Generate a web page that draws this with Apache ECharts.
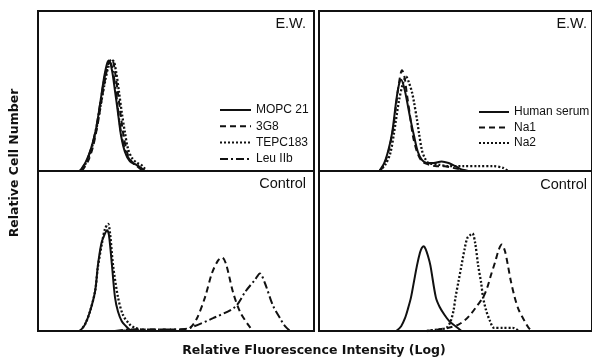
<!DOCTYPE html>
<html>
<head>
<meta charset="utf-8">
<script src="https://cdn.jsdelivr.net/npm/echarts@6/dist/echarts.min.js"></script>
<style>
  html, body { margin: 0; padding: 0; background: #fff; }
  #chart { width: 592px; height: 359px; }
</style>
</head>
<body>
<div id="chart"></div>
<script>
// x: relative fluorescence (0-100 across a panel), y: relative cell number (0-100 of panel height)
const ewMopc21 = [[15.2,0],[17.4,6],[19.2,14],[21.0,26],[22.5,42],[23.9,58],[25.0,67],[25.7,69],[26.8,63],[27.9,50],[29.0,36],[30.1,22],[31.5,12],[33.3,6],[35.5,4],[37.3,2],[38.8,0]];
const ew3G8 = [[15.9,0],[18.1,6],[19.9,15],[21.7,30],[23.2,46],[24.6,60],[25.7,68],[26.8,70],[27.9,62],[29.0,48],[30.1,33],[31.2,20],[32.6,10],[34.4,5],[36.2,3],[38.0,1],[39.1,0]];
const ewTepc183 = [[15.2,0],[17.4,5],[19.2,13],[21.0,25],[22.8,42],[24.3,56],[25.7,66],[27.2,69],[28.3,62],[29.3,50],[30.4,36],[31.5,24],[32.6,14],[34.1,8],[35.9,5],[37.3,4],[38.4,2],[39.5,0]];
const ewLeu = [[15.6,0],[17.8,7],[19.6,16],[21.4,30],[22.8,45],[24.3,60],[25.4,67],[26.1,68],[27.2,62],[28.3,49],[29.3,34],[30.4,21],[31.9,11],[33.7,6],[35.9,3],[38.0,0]];

const ctlMopc21 = [[15.2,0],[17.0,4],[18.8,12],[20.7,25],[21.7,41],[23.0,55],[24.3,61],[25.0,63],[25.7,60],[26.8,41],[27.9,21],[29.0,12],[30.4,6],[31.9,3],[33.7,0]];
const ctl3G8 = [[29.7,0],[37.0,1],[44.2,1],[51.4,1],[55.1,2],[57.6,8],[60.5,21],[63.0,36],[65.2,44],[66.7,46],[68.1,42],[70.7,24],[73.2,12],[76.1,4],[77.9,0]];
const ctlTepc183 = [[15.2,0],[17.0,4],[18.8,12],[20.7,25],[21.7,40],[23.2,55],[24.3,64],[25.4,67],[26.1,61],[27.2,41],[29.0,21],[30.8,10],[33.3,4],[35.1,2],[38.8,0]];
const ctlLeu = [[27.9,0],[33.3,1],[44.2,1],[51.4,1],[55.1,2],[63.4,8],[71.4,15],[75.3,25],[78.6,32],[80.4,36],[82.2,30],[85.1,16],[87.7,8],[89.5,3],[91.3,0]];

const ewHuman = [[22.1,0],[23.9,5],[25.4,13],[26.8,24],[28.3,44],[29.3,54],[30.1,57],[31.2,52],[32.2,44],[33.3,34],[34.8,22],[36.2,12],[37.7,7],[39.5,5],[42.0,5],[44.9,6],[47.5,5],[50.0,3],[52.2,1],[54.0,0]];
const ewNa1 = [[22.5,0],[24.3,6],[25.7,14],[27.2,27],[28.3,42],[29.3,55],[30.4,63],[31.2,60],[32.2,48],[33.3,35],[34.4,22],[35.9,12],[37.7,6],[40.2,4],[43.1,3],[46.0,3],[48.9,2],[51.8,1],[54.7,0]];
const ewNa2 = [[22.1,0],[24.3,4],[26.1,11],[27.5,24],[29.3,44],[30.8,55],[31.9,59],[33.0,55],[34.1,49],[34.8,43],[35.9,32],[36.6,24],[37.7,13],[38.8,8],[40.2,5],[43.8,4],[47.5,3],[52.9,3],[58.3,3],[63.8,3],[67.4,2],[69.2,0]];

const ctlHuman = [[28.3,0],[30.1,3],[31.5,8],[32.6,14],[33.7,21],[34.8,31],[35.9,41],[37.0,49],[37.7,52],[38.4,53],[39.1,51],[39.9,47],[40.8,41],[42.8,21],[44.2,15],[46.0,10],[47.8,6],[50.0,3],[52.2,0]];
const ctlNa1 = [[39.5,0],[43.8,1],[47.5,2],[51.1,4],[53.6,7],[55.8,11],[58.0,16],[60.1,21],[61.6,27],[63.0,35],[64.5,43],[65.9,51],[67.0,54],[68.1,50],[69.2,41],[70.3,31],[71.7,21],[73.2,13],[75.4,6],[76.8,2],[78.3,0]];
const ctlNa2 = [[39.5,0],[43.8,1],[46.7,2],[48.2,6],[49.3,13],[50.0,21],[51.1,31],[52.2,41],[53.3,51],[54.3,58],[55.4,60],[56.2,61],[57.2,55],[58.3,41],[59.4,30],[60.1,21],[61.2,13],[62.7,6],[64.1,2],[67.4,2],[71.0,2],[73.2,0]];

const leftNames = ['MOPC 21', '3G8', 'TEPC183', 'Leu IIb'];
const rightNames = ['Human serum', 'Na1', 'Na2'];
const panelLabels = ['E.W.', 'Control'];
const yTitle = 'Relative Cell Number';
const xTitle = 'Relative Fluorescence Intensity (Log)';

const SOLID = 'solid';
const DASH = [6, 4];
const DOT = [2, 2];
const DASHDOT = [8, 3, 2, 3];
const INK = '#111';

function line(name, data, idx, dash) {
  return {
    name: name,
    type: 'line',
    data: data,
    xAxisIndex: idx,
    yAxisIndex: idx,
    symbol: 'none',
    smooth: 0.3,
    lineStyle: { color: INK, width: dash === DOT ? 2.3 : 2, type: dash },
    itemStyle: { color: INK }
  };
}

const grids = [
  { left: 38, top: 11, width: 276, height: 160 },
  { left: 38, top: 171, width: 276, height: 160 },
  { left: 319, top: 11, width: 276, height: 160 },
  { left: 319, top: 171, width: 276, height: 160 }
].map(g => Object.assign(g, { show: true, borderColor: INK, borderWidth: 2, backgroundColor: 'transparent' }));

const axes = () => Array.from({ length: 4 }, (_, i) => ({
  type: 'value', gridIndex: i, min: 0, max: 100, show: false
}));

const labelFont = '14.5px "Liberation Sans", Arial, sans-serif';
const titleFont = 'bold 12.5px "DejaVu Sans", sans-serif';
const legendText = { color: INK, fontSize: 12, fontFamily: '"Liberation Sans", Arial, sans-serif' };

function label(text, x, y) {
  return { type: 'text', x: x, y: y, style: { text: text, font: labelFont, fill: INK, align: 'right', verticalAlign: 'middle' } };
}

const chart = echarts.init(document.getElementById('chart'), null, { renderer: 'canvas' });
chart.setOption({
  animation: false,
  backgroundColor: '#fff',
  grid: grids,
  xAxis: axes(),
  yAxis: axes(),
  legend: [
    {
      data: leftNames, orient: 'vertical', left: 214, top: 99,
      itemWidth: 31, itemHeight: 12, itemGap: 4.3, selectedMode: false,
      itemStyle: { opacity: 0 }, textStyle: legendText
    },
    {
      data: rightNames, orient: 'vertical', left: 473, top: 101,
      itemWidth: 30, itemHeight: 12, itemGap: 3.5, selectedMode: false,
      itemStyle: { opacity: 0 }, textStyle: legendText
    }
  ],
  graphic: [
    label(panelLabels[0], 306, 24),
    label(panelLabels[1], 306, 184),
    label(panelLabels[0], 587, 24),
    label(panelLabels[1], 587, 185),
    { type: 'text', x: 15, y: 163, rotation: Math.PI / 2,
      style: { text: yTitle, font: titleFont, fill: INK, align: 'center', verticalAlign: 'middle' } },
    { type: 'text', x: 314, y: 351,
      style: { text: xTitle, font: titleFont, fill: INK, align: 'center', verticalAlign: 'middle' } }
  ],
  series: [
    line(leftNames[0], ewMopc21, 0, SOLID),
    line(leftNames[1], ew3G8, 0, DASH),
    line(leftNames[2], ewTepc183, 0, DOT),
    line(leftNames[3], ewLeu, 0, DASHDOT),
    line(leftNames[0], ctlMopc21, 1, SOLID),
    line(leftNames[1], ctl3G8, 1, DASH),
    line(leftNames[2], ctlTepc183, 1, DOT),
    line(leftNames[3], ctlLeu, 1, DASHDOT),
    line(rightNames[0], ewHuman, 2, SOLID),
    line(rightNames[1], ewNa1, 2, DASH),
    line(rightNames[2], ewNa2, 2, DOT),
    line(rightNames[0], ctlHuman, 3, SOLID),
    line(rightNames[1], ctlNa1, 3, DASH),
    line(rightNames[2], ctlNa2, 3, DOT)
  ]
});
</script>
</body>
</html>
